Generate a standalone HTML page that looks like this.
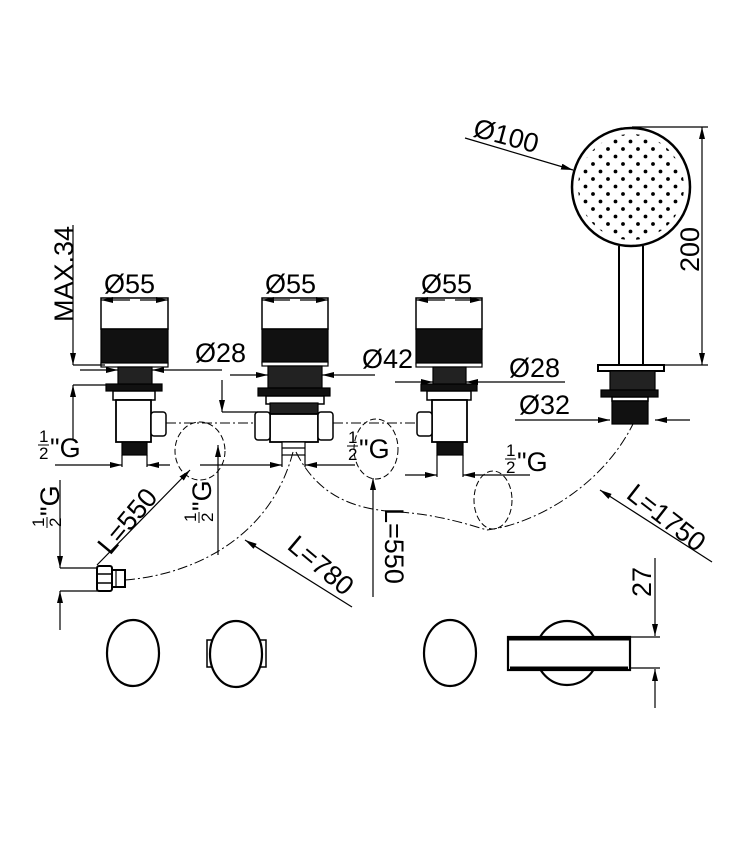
<!DOCTYPE html>
<html><head><meta charset="utf-8"><style>
html,body{margin:0;padding:0;background:#fff;}
svg{display:block;}
text{font-family:"Liberation Sans",sans-serif;font-size:27px;fill:#000;}
text.s{font-size:17px;}
</style></head><body>
<svg width="740" height="858" viewBox="0 0 740 858" xmlns="http://www.w3.org/2000/svg">
<defs>
<marker id="a" viewBox="0 0 12 6" refX="12" refY="3" markerWidth="12" markerHeight="6" orient="auto" markerUnits="userSpaceOnUse"><path d="M0,0 L12,3 L0,6 z" fill="#000"/></marker>
<pattern id="dots" x="574" y="130" width="15" height="15" patternUnits="userSpaceOnUse">
<circle cx="4" cy="4" r="1.9" fill="#000"/><circle cx="11.5" cy="11.5" r="1.9" fill="#000"/></pattern>
<clipPath id="hc"><circle cx="631" cy="187" r="53"/></clipPath>
</defs>
<g fill="none" stroke="#000" stroke-width="1.2">

<!-- Valve 1 -->
<rect x="101" y="298" width="67" height="31" fill="#fff" stroke-width="1.5"/>
<rect x="101" y="329" width="67" height="35" fill="#111"/>
<rect x="101" y="363" width="67" height="4" fill="#fff"/>
<rect x="118" y="367" width="34" height="18" fill="#222"/>
<rect x="106" y="384" width="56" height="7" fill="#111"/>
<rect x="113" y="391" width="42" height="9" fill="#fff" stroke-width="1.5"/>
<rect x="116" y="400" width="35" height="42" fill="#fff" stroke-width="1.8"/>
<rect x="151" y="412" width="15" height="24" rx="3" fill="#fff" stroke-width="1.5"/>
<rect x="122" y="442" width="25" height="13" fill="#111"/>

<!-- Valve 2 -->
<rect x="262" y="298" width="66" height="31" fill="#fff" stroke-width="1.5"/>
<rect x="262" y="329" width="66" height="34" fill="#111"/>
<rect x="262" y="362" width="66" height="4" fill="#fff"/>
<rect x="268" y="366" width="54" height="22" fill="#222"/>
<rect x="258" y="388" width="72" height="8" fill="#111"/>
<rect x="266" y="396" width="58" height="8" fill="#fff" stroke-width="1.5"/>
<rect x="270" y="403" width="48" height="11" fill="#222"/>
<rect x="270" y="414" width="48" height="28" fill="#fff" stroke-width="1.8"/>
<rect x="255" y="412" width="15" height="28" rx="3" fill="#fff" stroke-width="1.5"/>
<rect x="318" y="412" width="15" height="28" rx="3" fill="#fff" stroke-width="1.5"/>
<rect x="282" y="442" width="23" height="13" fill="#fff"/>
<line x1="282" y1="448" x2="305" y2="448"/>

<!-- Valve 3 -->
<rect x="416" y="298" width="66" height="31" fill="#fff" stroke-width="1.5"/>
<rect x="416" y="329" width="66" height="35" fill="#111"/>
<rect x="416" y="363" width="66" height="4" fill="#fff"/>
<rect x="433" y="367" width="33" height="18" fill="#222"/>
<rect x="421" y="384" width="56" height="7" fill="#111"/>
<rect x="427" y="391" width="44" height="9" fill="#fff" stroke-width="1.5"/>
<rect x="432" y="400" width="35" height="42" fill="#fff" stroke-width="1.8"/>
<rect x="417" y="412" width="15" height="24" rx="3" fill="#fff" stroke-width="1.5"/>
<rect x="437" y="442" width="26" height="13" fill="#111"/>

<!-- Shower -->
<circle cx="631" cy="187" r="59" fill="#fff" stroke-width="2.5"/>
<rect x="572" y="128" width="118" height="118" fill="url(#dots)" stroke="none" clip-path="url(#hc)"/>
<line x1="619" y1="246" x2="619" y2="365" stroke-width="2"/>
<line x1="643" y1="246" x2="643" y2="365" stroke-width="2"/>
<rect x="598" y="365" width="66" height="6" fill="#fff" stroke-width="2"/>
<rect x="610" y="371" width="45" height="19" fill="#222"/>
<rect x="601" y="390" width="57" height="7" fill="#111"/>
<rect x="612" y="397" width="36" height="4" fill="#fff" stroke-width="1.5"/>
<rect x="612" y="401" width="36" height="23" fill="#111"/>

<!-- dimension lines -->
<line x1="130" y1="300" x2="101" y2="300" marker-end="url(#a)"/><line x1="140" y1="300" x2="168" y2="300" marker-end="url(#a)"/>
<line x1="290" y1="300" x2="262" y2="300" marker-end="url(#a)"/><line x1="300" y1="300" x2="328" y2="300" marker-end="url(#a)"/>
<line x1="445" y1="300" x2="416" y2="300" marker-end="url(#a)"/><line x1="455" y1="300" x2="482" y2="300" marker-end="url(#a)"/>

<!-- MAX.34 -->
<line x1="73" y1="225" x2="73" y2="365" marker-end="url(#a)"/>
<line x1="73" y1="365" x2="105" y2="365"/>
<line x1="73" y1="440" x2="73" y2="385" marker-end="url(#a)"/>
<line x1="73" y1="385" x2="106" y2="385"/>

<!-- Ø28 left -->
<line x1="80" y1="370" x2="118" y2="370" marker-end="url(#a)"/>
<line x1="222" y1="370" x2="152" y2="370" marker-end="url(#a)"/>
<!-- Ø42 -->
<line x1="230" y1="375" x2="268" y2="375" marker-end="url(#a)"/>
<line x1="375" y1="375" x2="322" y2="375" marker-end="url(#a)"/>
<line x1="222" y1="380" x2="222" y2="412" marker-end="url(#a)"/>
<line x1="222" y1="412" x2="258" y2="412"/>
<!-- Ø28 right -->
<line x1="395" y1="382" x2="433" y2="382" marker-end="url(#a)"/>
<line x1="565" y1="382" x2="466" y2="382" marker-end="url(#a)"/>
<!-- Ø32 -->
<line x1="515" y1="420" x2="610" y2="420" marker-end="url(#a)"/>
<line x1="690" y1="420" x2="655" y2="420" marker-end="url(#a)"/>
<!-- 200 -->
<line x1="632" y1="127" x2="708" y2="127"/>
<line x1="664" y1="365" x2="708" y2="365"/>
<line x1="702" y1="245" x2="702" y2="127" marker-end="url(#a)"/>
<line x1="702" y1="245" x2="702" y2="365" marker-end="url(#a)"/>
<!-- Ø100 -->
<line x1="465" y1="138" x2="573" y2="170" marker-end="url(#a)"/>

<!-- 1/2G left horizontal -->
<line x1="55" y1="465" x2="122" y2="465" marker-end="url(#a)"/>
<line x1="170" y1="465" x2="147" y2="465" marker-end="url(#a)"/>
<line x1="122" y1="455" x2="122" y2="467"/><line x1="147" y1="455" x2="147" y2="467"/>
<!-- center 1/2G -->
<line x1="200" y1="465" x2="282" y2="465" marker-end="url(#a)"/>
<line x1="355" y1="465" x2="305" y2="465" marker-end="url(#a)"/>
<line x1="282" y1="455" x2="282" y2="467"/><line x1="305" y1="455" x2="305" y2="467"/>
<!-- right 1/2G -->
<line x1="405" y1="475" x2="437" y2="475" marker-end="url(#a)"/>
<line x1="530" y1="475" x2="463" y2="475" marker-end="url(#a)"/>
<line x1="437" y1="455" x2="437" y2="477"/><line x1="463" y1="455" x2="463" y2="477"/>

<!-- dash-dot lines -->
<g stroke-dasharray="10,3,2,3" stroke-width="1">
<line x1="166" y1="423" x2="255" y2="423"/>
<line x1="333" y1="423" x2="417" y2="423"/>
<path d="M125,580 C190,575 270,540 293,452"/>
<path d="M296,452 C320,500 360,510 400,512 C440,515 470,525 487,530"/>
<path d="M487,530 C530,525 600,490 633,424"/>
</g>
<g stroke-dasharray="6,3" stroke-width="1">
<ellipse cx="200" cy="451" rx="25" ry="29"/>
<ellipse cx="376" cy="449" rx="22" ry="30"/>
<ellipse cx="493" cy="500" rx="19" ry="29"/>
</g>

<!-- L=550 left -->
<line x1="97" y1="565" x2="190" y2="470" marker-end="url(#a)"/>
<!-- vertical 1/2G at x 218 -->
<line x1="218" y1="555" x2="218" y2="445" marker-end="url(#a)"/>
<!-- far left 1/2G -->
<line x1="60" y1="480" x2="60" y2="568" marker-end="url(#a)"/>
<line x1="60" y1="568" x2="100" y2="568"/>
<line x1="60" y1="630" x2="60" y2="591" marker-end="url(#a)"/>
<line x1="60" y1="591" x2="100" y2="591"/>
<!-- fitting -->
<rect x="97" y="566" width="15" height="25" rx="2" fill="#fff" stroke-width="2"/>
<line x1="97" y1="574" x2="112" y2="574" stroke-width="1.5"/><line x1="97" y1="583" x2="112" y2="583" stroke-width="1.5"/>
<rect x="112" y="570" width="13" height="17" fill="#fff" stroke-width="2"/>
<line x1="116" y1="570" x2="116" y2="587"/>
<!-- L=780 -->
<line x1="352" y1="607" x2="245" y2="540" marker-end="url(#a)"/>
<!-- L=550 center -->
<line x1="373" y1="597" x2="373" y2="478" marker-end="url(#a)"/>
<!-- L=1750 -->
<line x1="712" y1="562" x2="600" y2="490" marker-end="url(#a)"/>

<!-- bottom views -->
<ellipse cx="133" cy="653" rx="26" ry="33" stroke-width="2.2"/>
<rect x="207" y="640" width="6" height="27" fill="#fff" stroke-width="1.5"/>
<rect x="260" y="640" width="6" height="27" fill="#fff" stroke-width="1.5"/>
<ellipse cx="236" cy="654" rx="26" ry="33" fill="#fff" stroke-width="2.2"/>
<ellipse cx="450" cy="653" rx="26" ry="33" stroke-width="2.2"/>
<ellipse cx="567" cy="653" rx="31" ry="32" stroke-width="2.2"/>
<rect x="508" y="637" width="122" height="33" fill="#fff" stroke-width="2.2"/>
<line x1="508" y1="639" x2="630" y2="639" stroke-width="3"/>
<line x1="510" y1="668" x2="628" y2="668" stroke-width="3"/>
<!-- 27 -->
<line x1="655" y1="558" x2="655" y2="636" marker-end="url(#a)"/>
<line x1="630" y1="637" x2="660" y2="637"/>
<line x1="630" y1="668" x2="660" y2="668"/>
<line x1="655" y1="708" x2="655" y2="669" marker-end="url(#a)"/>
</g>

<!-- labels -->
<text x="104" y="293">Ø55</text>
<text x="265" y="293">Ø55</text>
<text x="421" y="293">Ø55</text>
<text x="195" y="362">Ø28</text>
<text x="362" y="368">Ø42</text>
<text x="509" y="377">Ø28</text>
<text x="519" y="414">Ø32</text>
<text transform="translate(472,136) rotate(15)">Ø100</text>
<text transform="translate(699,272) rotate(-90)">200</text>
<text transform="translate(73,322) rotate(-90)">MAX.34</text>
<text transform="translate(110,556) rotate(-50)">L=550</text>
<text transform="translate(286,548) rotate(40)">L=780</text>
<text transform="translate(385,508) rotate(90)">L=550</text>
<text transform="translate(625,497) rotate(38)">L=1750</text>
<text transform="translate(651,597) rotate(-90)">27</text>
<!-- 1/2"G labels -->
<text class="s" x="39" y="442">1</text><line x1="38" y1="445" x2="49" y2="445" stroke="#000"/><text class="s" x="39" y="459">2</text><text x="50" y="457">"G</text>
<text class="s" x="348" y="443">1</text><line x1="347" y1="446" x2="358" y2="446" stroke="#000"/><text class="s" x="348" y="460">2</text><text x="359" y="458">"G</text>
<text class="s" x="506" y="456">1</text><line x1="505" y1="459" x2="516" y2="459" stroke="#000"/><text class="s" x="506" y="473">2</text><text x="517" y="471">"G</text>
<g transform="translate(196,522) rotate(-90)"><text class="s" x="0" y="0">1</text><line x1="-1" y1="3" x2="10" y2="3" stroke="#000"/><text class="s" x="0" y="17">2</text><text x="11" y="15">"G</text></g>
<g transform="translate(44,527) rotate(-90)"><text class="s" x="0" y="0">1</text><line x1="-1" y1="3" x2="10" y2="3" stroke="#000"/><text class="s" x="0" y="17">2</text><text x="11" y="15">"G</text></g>
</svg>
</body></html>
